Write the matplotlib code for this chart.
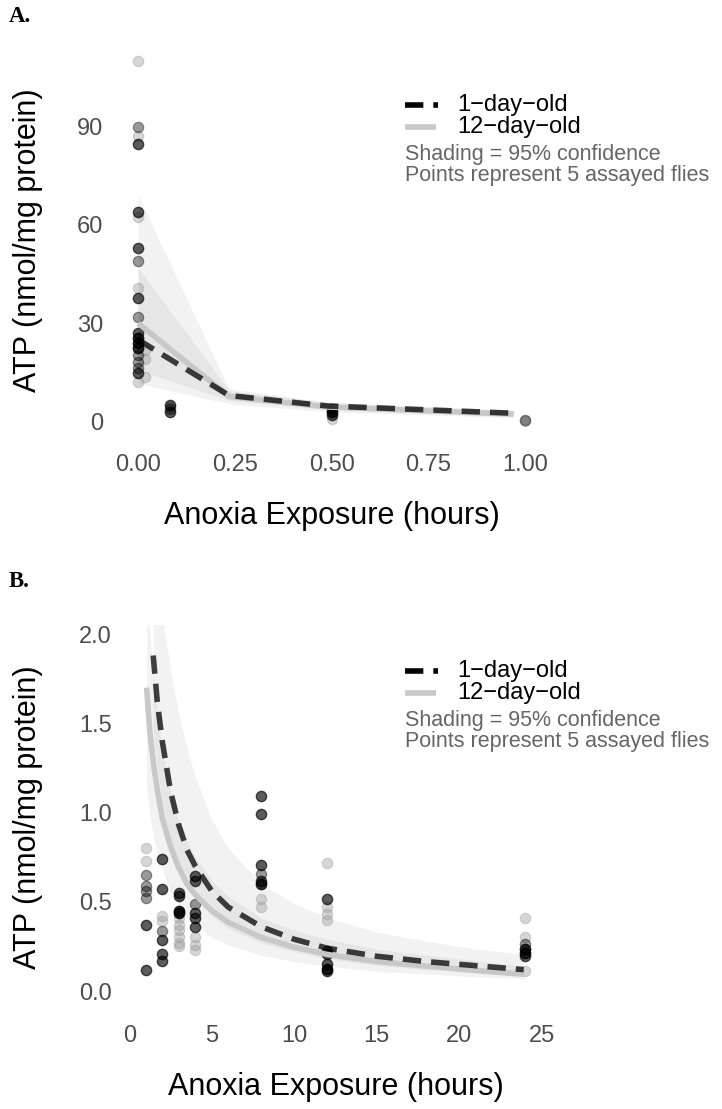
import numpy as np
import matplotlib
matplotlib.use("Agg")
import matplotlib.pyplot as plt
from matplotlib.lines import Line2D

plt.rcParams['font.family'] = ['Liberation Sans', 'DejaVu Sans']

# ---- Panel A data (hours, nmol/mg protein) ----
a_d1_x = [0, 0, 0, 0, 0, 0, 0, 0, 0, 0, 0, 0, 0, 0, 0, 0.083, 0.083, 0.083, 0.5, 0.5, 0.5, 1.0]
a_d1_y = [89.7, 84.6, 64, 52.8, 49, 37.6, 32, 26.9, 25.4, 23.9, 22.4, 20.3, 18.3, 16.3, 14.7, 5.2, 4.0, 3.0, 4.0, 3.0, 2.2, 0.5]
a_d1_n = [1, 2, 2, 2, 1, 2, 1, 2, 3, 3, 3, 1, 1, 1, 2, 2, 1, 2, 2, 3, 2, 1]
a_d12_x = [0, 0, 0, 0, 0, 0.017, 0.017, 0.017, 0.083, 0.5, 1.0]
a_d12_y = [110, 87, 62.4, 40.6, 12.2, 22, 19, 13.5, 4.5, 0.8, 0.3]

# fitted lines and 95% bands, panel A
a_fit_x = [0, 0.235, 0.49, 0.97]
a_d1_fit = [25, 8.0, 4.8, 2.6]
a_d1_lo = [15.7, 6.5, 3.8, 1.9]
a_d1_hi = [47, 9.5, 5.8, 3.3]
a_d12_fit = [30, 7.7, 4.5, 2.3]
a_d12_lo = [11.7, 5.5, 3.0, 1.3]
a_d12_hi = [69, 10, 6.0, 3.5]

# ---- Panel B data ----
b_d1_x = [1, 1, 1, 1, 1, 1, 2, 2, 2, 2, 2, 2, 3, 3, 3, 3, 4, 4, 4, 4, 4, 4,
          8, 8, 8, 8, 8, 8, 12, 12, 12, 12, 12, 12, 24, 24, 24, 24]
b_d1_y = [0.65, 0.59, 0.56, 0.52, 0.37, 0.12, 0.74, 0.57, 0.336, 0.284, 0.206, 0.168,
          0.55, 0.53, 0.45, 0.44, 0.644, 0.616, 0.486, 0.44, 0.41, 0.36,
          1.09, 0.99, 0.706, 0.654, 0.615, 0.597, 0.514, 0.224, 0.205, 0.149, 0.121, 0.112,
          0.264, 0.234, 0.215, 0.196]
b_d1_n = [1, 1, 1, 1, 2, 2, 2, 2, 1, 2, 2, 2, 2, 2, 3, 3, 2, 2, 1, 2, 2, 2,
          2, 2, 2, 1, 2, 3, 2, 2, 2, 2, 3, 2, 1, 3, 3, 2]
b_d12_x = [1, 1, 2, 2, 3, 3, 3, 3, 3, 3, 4, 4, 4, 8, 8, 12, 12, 12, 12, 24, 24, 24]
b_d12_y = [0.80, 0.73, 0.42, 0.39, 0.41, 0.37, 0.34, 0.30, 0.27, 0.25, 0.30, 0.257, 0.228,
           0.514, 0.47, 0.715, 0.47, 0.43, 0.40, 0.411, 0.303, 0.112]

b_d1_fx = [1.45, 1.7, 2, 2.5, 3, 3.5, 4, 5, 6, 8, 10, 12, 15, 18, 21, 23.9]
b_d1_fit = [1.88, 1.62, 1.40, 1.12, 0.93, 0.79, 0.70, 0.56, 0.47, 0.36, 0.29, 0.24, 0.195, 0.165, 0.142, 0.12]
b_d1_lo = [1.45, 1.25, 1.05, 0.85, 0.70, 0.60, 0.52, 0.42, 0.35, 0.27, 0.22, 0.18, 0.145, 0.12, 0.105, 0.09]
b_d1_hi = [2.3, 2.2, 2.1, 1.8, 1.55, 1.36, 1.20, 0.96, 0.80, 0.60, 0.49, 0.41, 0.33, 0.28, 0.235, 0.205]
b_d12_fx = [1.05, 1.25, 1.5, 1.75, 2, 2.5, 3, 3.5, 4, 5, 6, 8, 10, 12, 15, 18, 21, 23.9]
b_d12_fit = [1.70, 1.45, 1.25, 1.10, 0.97, 0.81, 0.69, 0.60, 0.54, 0.45, 0.385, 0.30, 0.245, 0.205, 0.165, 0.14, 0.115, 0.094]
b_d12_lo = [1.15, 0.98, 0.85, 0.76, 0.68, 0.56, 0.48, 0.42, 0.37, 0.30, 0.26, 0.20, 0.165, 0.14, 0.11, 0.095, 0.08, 0.07]
b_d12_hi = [2.3, 2.0, 1.75, 1.53, 1.35, 1.12, 0.95, 0.84, 0.75, 0.62, 0.53, 0.41, 0.34, 0.29, 0.235, 0.20, 0.17, 0.14]

labels = ['1\u2212day\u2212old', '12\u2212day\u2212old']
notes = 'Shading = 95% confidence\nPoints represent 5 assayed flies'

DASH = (3.3, 1.8)
W, H = 722, 1109


def fx(px):
    return px / W


def fy(py):
    return 1 - py / H


def draw_panel(ax, d1x, d1y, d1n, d12x, d12y, fx1, f1, lo1, hi1, fx12, f12, lo12, hi12):
    ax.fill_between(fx12, lo12, hi12, color='grey', alpha=0.1, lw=0)
    ax.fill_between(fx1, lo1, hi1, color='grey', alpha=0.1, lw=0)
    ax.scatter(d12x, d12y, s=55, facecolor=(0.6, 0.6, 0.6, 0.4),
               edgecolor=(0.6, 0.6, 0.6, 0.4), linewidths=0.9, zorder=3)
    ax.scatter(np.repeat(d1x, d1n), np.repeat(d1y, d1n), s=55, facecolor=(0, 0, 0, 0.4),
               edgecolor=(0, 0, 0, 0.4), linewidths=0.9, zorder=3)
    ax.plot(fx12, f12, color='#c8c8c8', lw=4, solid_capstyle='butt',
            solid_joinstyle='round', zorder=4)
    ax.plot(fx1, f1, color='black', alpha=0.75, lw=4, dashes=DASH,
            dash_capstyle='butt', zorder=5)
    for s in ax.spines.values():
        s.set_visible(False)
    ax.tick_params(length=0, labelsize=17, labelcolor='#4d4d4d', pad=11)
    ax.set_xlabel('Anoxia Exposure (hours)', fontsize=22, labelpad=18)
    ax.set_ylabel('ATP (nmol/mg protein)', fontsize=22)


def legend_block(fig, y0):
    # legend keys + labels, then the grey notes underneath
    fig.add_artist(Line2D([fx(405), fx(438)], [fy(y0), fy(y0)], color='black', lw=4,
                          dashes=DASH, dash_capstyle='butt'))
    fig.add_artist(Line2D([fx(405), fx(436)], [fy(y0 + 21.7), fy(y0 + 21.7)],
                          color='#c8c8c8', lw=4, solid_capstyle='butt'))
    fig.text(fx(457), fy(y0), labels[0], fontsize=17, va='center')
    fig.text(fx(457), fy(y0 + 21.7), labels[1], fontsize=17, va='center')
    fig.text(fx(405), fy(y0 + 39), notes, fontsize=15.5, color='#666666', va='top',
             linespacing=0.98)


fig = plt.figure(figsize=(7.22, 11.09), dpi=100)

axA = fig.add_axes([0.1644, 0.6043, 0.5898, 0.3574])
draw_panel(axA, a_d1_x, a_d1_y, a_d1_n, a_d12_x, a_d12_y,
           a_fit_x, a_d1_fit, a_d1_lo, a_d1_hi, a_fit_x, a_d12_fit, a_d12_lo, a_d12_hi)
axA.set_xlim(-0.05, 1.05)
axA.set_ylim(-5.2, 115.5)
axA.set_xticks([0, 0.25, 0.5, 0.75, 1.0])
axA.set_xticklabels(['0.00', '0.25', '0.50', '0.75', '1.00'])
axA.set_yticks([0, 30, 60, 90])
axA.yaxis.set_label_coords(-0.178, 0.5)

axB = fig.add_axes([0.1756, 0.0893, 0.5783, 0.347])
draw_panel(axB, b_d1_x, b_d1_y, b_d1_n, b_d12_x, b_d12_y,
           b_d1_fx, b_d1_fit, b_d1_lo, b_d1_hi, b_d12_fx, b_d12_fit, b_d12_lo, b_d12_hi)
axB.set_xlim(-0.15, 25.15)
axB.set_ylim(-0.106, 2.05)
axB.set_xticks([0, 5, 10, 15, 20, 25])
axB.set_yticks([0, 0.5, 1.0, 1.5, 2.0])
axB.set_yticklabels(['0.0', '0.5', '1.0', '1.5', '2.0'])
axB.yaxis.set_label_coords(-0.2007, 0.5)

legend_block(fig, 105)
legend_block(fig, 671)

fig.text(fx(9), fy(6), 'A.', fontsize=16.5, fontweight='bold',
         family='Liberation Serif', va='top')
fig.text(fx(9), fy(571), 'B.', fontsize=16.5, fontweight='bold',
         family='Liberation Serif', va='top')

fig.savefig('out.png', dpi=100)
